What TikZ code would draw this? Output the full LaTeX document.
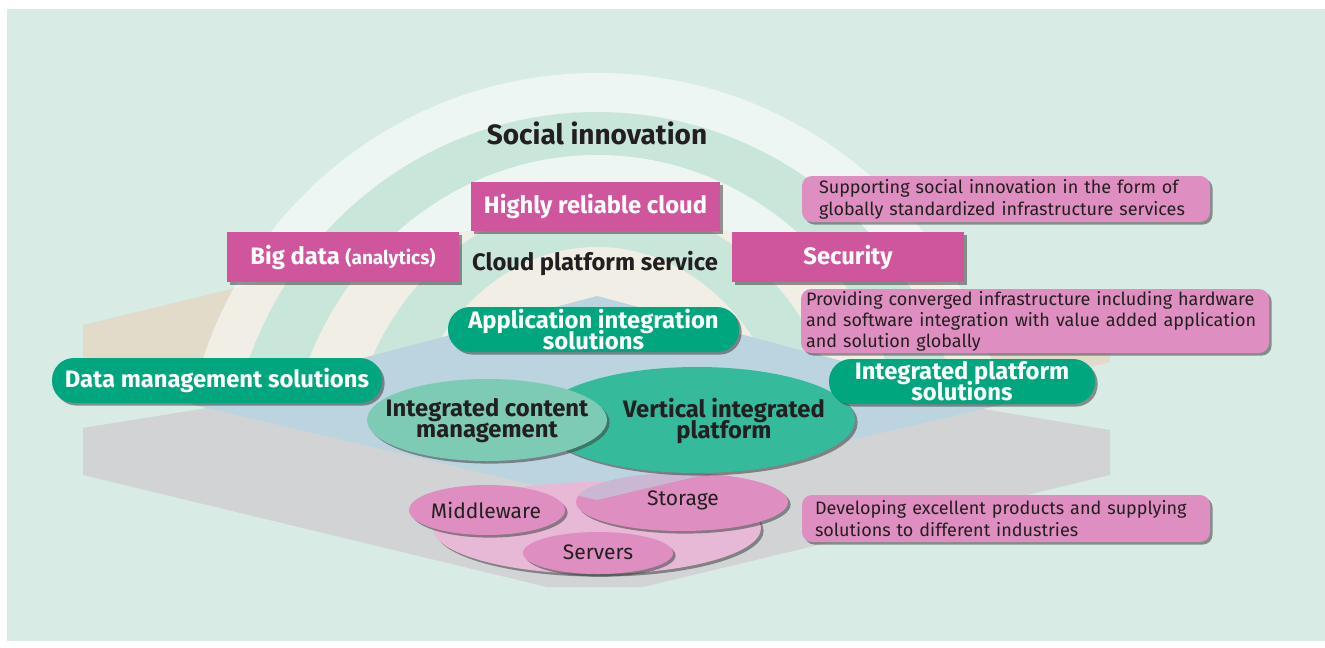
\documentclass[tikz,border=0pt]{standalone}
\usepackage{fontspec}
\setmainfont{Fira Sans}
\usetikzlibrary{shapes.geometric,shadows}
\hyphenpenalty=10000
\exhyphenpenalty=10000
\lineskiplimit=-20pt
\definecolor{bgmint}{HTML}{D8ECE5}
\definecolor{lightband}{HTML}{EDF6F2}
\definecolor{creamband}{HTML}{F1EEE6}
\definecolor{mintband}{HTML}{C9E6DB}
\definecolor{tanl}{HTML}{E2DBCA}
\definecolor{bluel}{HTML}{BCD3E0}
\definecolor{grayl}{HTML}{D2D3D5}
\definecolor{magbox}{HTML}{CF559D}
\definecolor{grnbox}{HTML}{00A67D}
\definecolor{pinkboxc}{HTML}{DE8EC0}
\definecolor{pinkbase}{HTML}{E8B9D7}
\definecolor{grnlight}{HTML}{7ECBB5}
\definecolor{grnmid}{HTML}{35BA9B}
\definecolor{darktext}{HTML}{231F20}
\tikzset{
  shad/.style={drop shadow={shadow xshift=1.3pt,shadow yshift=-1.3pt,opacity=0.55,fill=black!75}},
  magnode/.style={shad,fill=magbox,text=white,font=\bfseries\fontsize{11.9}{12}\selectfont,inner sep=0pt},
  grnnode/.style={shad,fill=grnbox,text=white,rounded corners=11pt,align=center,font=\bfseries\fontsize{11.9}{10.5}\selectfont,inner sep=0pt},
  pinknode/.style={shad,fill=pinkboxc,text=darktext,rounded corners=5pt,align=left,font=\fontsize{9}{11}\selectfont,inner ysep=0pt},
  ellnode/.style={shad,ellipse,inner sep=0pt},
  darklbl/.style={text=darktext,font=\bfseries\fontsize{11.9}{10.5}\selectfont,align=center,inner sep=0pt},
  smalllbl/.style={text=darktext,font=\fontsize{10.5}{11}\selectfont,inner sep=0pt}
}
\begin{document}
\begin{tikzpicture}[x=0.5pt,y=-0.5pt]
\fill[white] (0,0) rectangle (1325,647);
\useasboundingbox (0,0) rectangle (1325,647);
\fill[bgmint] (7,9) rectangle (1325,641);
% tan layer
\fill[tanl] (83,325) -- (597,200) -- (1110,325) -- (1110,362) -- (597,487) -- (83,362) -- cycle;
% arcs
\begin{scope}
\clip (0,0) rectangle (1325,365);
\fill[lightband] (597,487) ellipse [x radius=414, y radius=414];
\fill[mintband] (597,487) ellipse [x radius=370, y radius=375];
\fill[lightband] (597,487) ellipse [x radius=312, y radius=332];
\fill[mintband] (597,487) ellipse [x radius=252, y radius=287];
\fill[creamband] (597,487) ellipse [x radius=199, y radius=240];
\end{scope}
\begin{scope}
\clip (83,325) -- (597,200) -- (1110,325) -- (1110,362) -- (597,487) -- (83,362) -- cycle;
\clip (0,0) rectangle (1325,365);
\fill[creamband] (597,487) ellipse [x radius=414, y radius=414];
\fill[mintband] (597,487) ellipse [x radius=370, y radius=375];
\fill[creamband] (597,487) ellipse [x radius=312, y radius=332];
\fill[mintband] (597,487) ellipse [x radius=252, y radius=287];
\fill[creamband] (597,487) ellipse [x radius=199, y radius=240];
\end{scope}
% gray layer
\fill[grayl] (83,428) -- (597,345) -- (1110,430) -- (1110,475) -- (643,587) -- (547,587) -- (83,475) -- cycle;
% blue layer
\fill[bluel] (597,296) -- (1004,404) -- (597,500) -- (190,404) -- cycle;

% base ellipses
\node[ellnode,fill=pinkbase,minimum width=164pt,minimum height=46pt] (base) at (597,528) {};
\node[ellnode,fill=pinkboxc,minimum width=78pt,minimum height=25pt] (mid) at (487,510) {};
\node[smalllbl] (midt) at (486,510) {Middleware};
\node[ellnode,fill=pinkboxc,minimum width=106pt,minimum height=29pt] (sto) at (682,502) {};
\begin{scope}
\clip (682,502) ellipse [x radius=106, y radius=29];
\fill[bluel,opacity=0.6] (597,296) -- (1004,404) -- (597,500) -- (190,404) -- cycle;
\end{scope}
\node[smalllbl] (stot) at (683,500) {Storage};
\node[ellnode,fill=pinkboxc,minimum width=75pt,minimum height=21pt] (ser) at (598,553) {};
\node[smalllbl] (sert) at (598,552) {Servers};

% green ellipses
\node[ellnode,fill=grnmid,minimum width=158pt,minimum height=53pt] (vip) at (697,420) {};
\node[darklbl] (vipt) at (724,421) {Vertical integrated\\platform};
\node[ellnode,fill=grnlight,minimum width=120pt,minimum height=41pt] (icm) at (487,420) {};
\node[darklbl] (icmt) at (487,421) {Integrated content\\management};

% green boxes
\node[grnnode,minimum width=145.5pt,minimum height=22.5pt] (app) at (593.5,329.5) {Application integration\\solutions};
\node[grnnode,minimum width=165pt,minimum height=22.5pt] (dms) at (217,380.5) {Data management solutions};
\node[grnnode,minimum width=133pt,minimum height=22.5pt] (ips) at (962,381.5) {Integrated platform\\solutions};

% magenta boxes
\node[magnode,minimum width=124.5pt,minimum height=24.5pt] (hrc) at (595.5,206.5) {Highly reliable cloud};
\node[magnode,minimum width=116pt,minimum height=25pt] (big) at (343,257) {Big data {\fontsize{9.5}{10}\selectfont(analytics)}};
\node[magnode,minimum width=116pt,minimum height=25pt] (sec) at (848,257) {Security};

% titles
\node[darklbl,font=\bfseries\fontsize{14}{14}\selectfont] (soc) at (597,133) {Social innovation};
\node[darklbl] (cps) at (595,263) {Cloud platform service};

% pink description boxes
\node[pinknode,minimum height=23pt,inner xsep=8.5pt,text width=187pt] (sup) at (1006,199) {Supporting social innovation in the form of\\globally standardized infrastructure services};
\node[pinknode,minimum height=32pt,inner xsep=2.5pt,text width=229pt,font=\fontsize{9}{10.5}\selectfont] (prov) at (1035,321) {Providing converged infrastructure including hardware\\and software integration with value added application\\and solution globally};
\node[pinknode,minimum height=23.5pt,inner xsep=6.5pt,text width=191pt] (dev) at (1006,518.5) {Developing excellent products and supplying\\solutions to different industries};
\end{tikzpicture}
\end{document}
